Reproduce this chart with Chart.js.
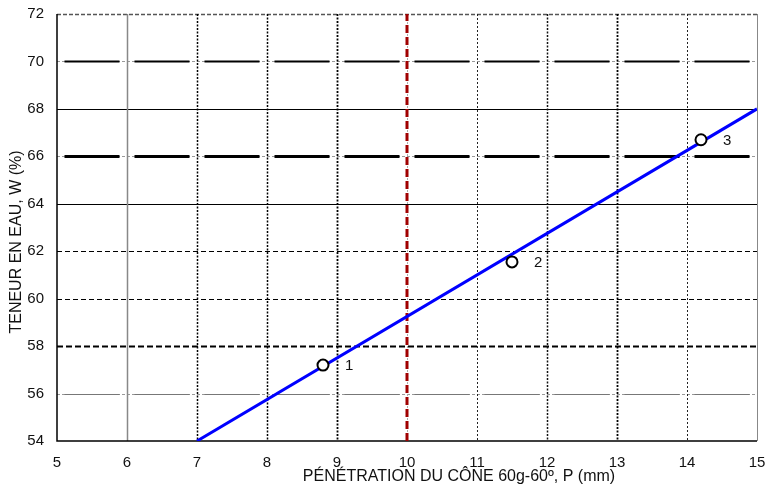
<!DOCTYPE html>
<html><head><meta charset="utf-8">
<script src="https://cdn.jsdelivr.net/npm/chart.js@4.4.1/dist/chart.umd.min.js"></script>
<style>html,body{margin:0;padding:0;background:#fff}#wrap{width:765px;height:487px}</style>
</head><body><div id="wrap"><canvas id="c" width="765" height="487"></canvas></div>
<script>
const pointX = [8.8, 11.5, 14.2];
const pointY = [57.2, 61.55, 66.7];
const pointLabels = ['1', '2', '3'];
const fitX = [7, 15];
const fitY = [54, 68];
const limitX = [10, 10];
const limitY = [54, 72];
const xTitle = 'PÉNÉTRATION DU CÔNE 60g-60º, P (mm)';
const yTitle = 'TENEUR EN EAU, W (%)';

const FONT = '"Liberation Sans", Arial, sans-serif';
const hStyles = {
  72:{c:'#555',w:1.5,d:[4,2]},
  70:{c:'#000',w:2.2,seg:true},
  68:{c:'#000',w:1,d:[]},
  66:{c:'#000',w:2.8,seg:true},
  64:{c:'#000',w:1,d:[]},
  62:{c:'#000',w:1,d:[5,3]},
  60:{c:'#000',w:1,d:[5,3]},
  58:{c:'#000',w:1.8,d:[6,3]},
  56:{c:'#777',w:1,seg:true}
};
const vStyles = {
  6:{c:'#888',w:1.5,d:[]}, 7:{c:'#000',w:1.5,d:[2,1.5]}, 8:{c:'#000',w:1.5,d:[2,1.5]},
  9:{c:'#000',w:1.8,d:[2,1.5]}, 10:{c:'#aaa',w:1,d:[2,2]}, 11:{c:'#222',w:1,d:[2,2]},
  12:{c:'#111',w:1.5,d:[2,1.5]}, 13:{c:'#000',w:1.8,d:[2,1.5]}, 14:{c:'#222',w:1,d:[2,2]}
};

const gridPlugin = {
  id:'grid',
  beforeDatasetsDraw(chart){
    const {ctx, chartArea:a, scales:{x,y}} = chart;
    const unit = x.getPixelForValue(6) - x.getPixelForValue(5);
    ctx.save();
    for (const k in hStyles){
      const s=hStyles[k]; const py=Math.round(y.getPixelForValue(+k))+0.5;
      if (s.seg){
        ctx.strokeStyle='#999'; ctx.lineWidth=1; ctx.setLineDash([3,2]); ctx.lineDashOffset=0;
        ctx.beginPath(); ctx.moveTo(a.left,py); ctx.lineTo(a.right,py); ctx.stroke();
        const gap=15;
        ctx.strokeStyle=s.c; ctx.lineWidth=s.w; ctx.setLineDash([unit-gap,gap]); ctx.lineDashOffset=unit-gap/2;
      } else {
        ctx.strokeStyle=s.c; ctx.lineWidth=s.w; ctx.setLineDash(s.d); ctx.lineDashOffset=0;
      }
      ctx.beginPath(); ctx.moveTo(a.left,py); ctx.lineTo(a.right,py); ctx.stroke();
    }
    ctx.lineDashOffset=0;
    for (const k in vStyles){
      const s=vStyles[k]; const px=Math.round(x.getPixelForValue(+k))+0.5;
      ctx.strokeStyle=s.c; ctx.lineWidth=s.w; ctx.setLineDash(s.d);
      ctx.beginPath(); ctx.moveTo(px,a.top); ctx.lineTo(px,a.bottom); ctx.stroke();
    }
    ctx.setLineDash([]);
    ctx.strokeStyle='#888'; ctx.lineWidth=1;
    ctx.beginPath(); ctx.moveTo(a.right+0.5,a.top); ctx.lineTo(a.right+0.5,a.bottom); ctx.stroke();
    ctx.strokeStyle='#000'; ctx.lineWidth=1.5;
    ctx.beginPath(); ctx.moveTo(a.left,a.top); ctx.lineTo(a.left,a.bottom); ctx.lineTo(a.right,a.bottom); ctx.stroke();
    ctx.restore();
  },
  afterDatasetsDraw(chart){
    const {ctx, scales:{x,y}} = chart;
    ctx.save();
    ctx.fillStyle='#111'; ctx.font='15px '+FONT;
    ctx.textAlign='left'; ctx.textBaseline='middle';
    pointX.forEach((v,i)=>{
      ctx.fillText(pointLabels[i], x.getPixelForValue(v)+22, y.getPixelForValue(pointY[i])+1);
    });
    ctx.font='16px '+FONT;
    ctx.textAlign='center'; ctx.textBaseline='middle';
    ctx.fillText(xTitle, 459, 477);
    ctx.translate(17, 242); ctx.rotate(-Math.PI/2);
    ctx.fillText(yTitle, 0, 0);
    ctx.restore();
  }
};

new Chart(document.getElementById('c'), {
  type:'scatter',
  data:{datasets:[
    {data:pointX.map((v,i)=>({x:v,y:pointY[i]})), showLine:false, pointRadius:5.5, pointBorderWidth:2,
     pointBackgroundColor:'#fff', pointBorderColor:'#000', order:0},
    {data:fitX.map((v,i)=>({x:v,y:fitY[i]})), showLine:true, pointRadius:0, borderColor:'#0000ff', borderWidth:3, order:1},
    {data:limitX.map((v,i)=>({x:v,y:limitY[i]})), showLine:true, pointRadius:0, borderColor:'#a00000', borderWidth:3, borderDash:[8,4], order:2}
  ]},
  options:{
    responsive:false, animation:false, devicePixelRatio:1,
    layout:{padding:{top:14,right:0,left:0,bottom:0}},
    plugins:{legend:{display:false}, tooltip:{enabled:false}},
    scales:{
      x:{type:'linear', min:5, max:15, grid:{display:false}, border:{display:false},
         ticks:{stepSize:1, color:'#111', padding:5, maxRotation:0, font:{size:15, family:FONT}},
         afterFit(s){s.height=46; s.paddingRight=8; s.paddingLeft=0;}},
      y:{type:'linear', min:54, max:72, grid:{display:false}, border:{display:false},
         ticks:{stepSize:2, color:'#111', padding:5, font:{size:15, family:FONT}},
         afterFit(s){s.width=57; s.paddingTop=0; s.paddingBottom=0;}}
    }
  },
  plugins:[gridPlugin]
});
</script></body></html>
